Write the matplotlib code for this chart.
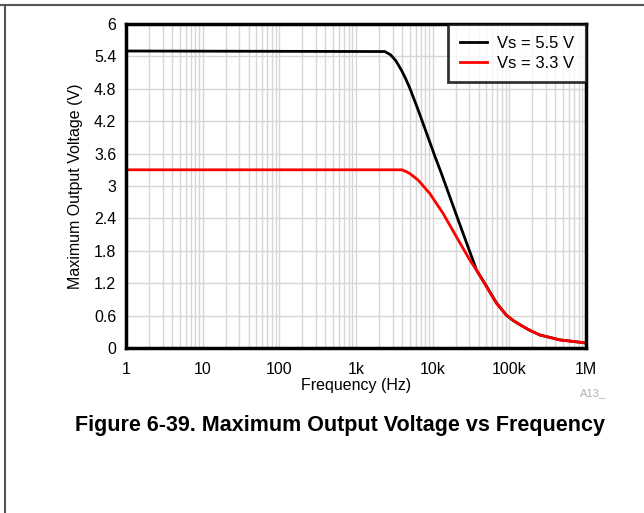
import matplotlib.pyplot as plt
from matplotlib.lines import Line2D

plt.rcParams['font.family'] = ['Liberation Sans', 'DejaVu Sans']

# Vs = 5.5 V curve
freq_55 = [1, 2380, 2820, 3310, 3930, 4470, 5040, 6460, 8320, 10700, 13100,
           21400, 37400, 50100, 67600, 91200, 112000, 138000, 178000, 251000,
           457000, 912000, 1000000]
vout_55 = [5.5, 5.49, 5.43, 5.32, 5.14, 4.98, 4.81, 4.41, 3.98, 3.55, 3.22,
           2.38, 1.44, 1.15, 0.84, 0.61, 0.51, 0.43, 0.34, 0.24,
           0.15, 0.10, 0.09]

# Vs = 3.3 V curve
freq_33 = [1, 3930, 4470, 5040, 6460, 9180, 13700, 20400, 30500, 37400,
           50100, 67600, 91200, 112000, 138000, 178000, 251000, 457000, 912000, 1000000]
vout_33 = [3.3, 3.3, 3.27, 3.23, 3.11, 2.86, 2.49, 2.06, 1.63, 1.44,
           1.14, 0.83, 0.61, 0.51, 0.43, 0.34, 0.24, 0.15, 0.10, 0.09]

x_ticks = [1, 10, 100, 1e3, 1e4, 1e5, 1e6]
x_labels = ["1", "10", "100", "1k", "10k", "100k", "1M"]
y_ticks = [0, 0.6, 1.2, 1.8, 2.4, 3, 3.6, 4.2, 4.8, 5.4, 6]
y_labels = ["0", "0.6", "1.2", "1.8", "2.4", "3", "3.6", "4.2", "4.8", "5.4", "6"]

fig = plt.figure(figsize=(6.44, 5.13), dpi=100)
W, H = 644, 513
ax = fig.add_axes([126 / W, 1 - 348 / H, (586 - 126) / W, (348 - 24) / H])

ax.plot(freq_55, vout_55, color='black', lw=2, label='Vs = 5.5 V', zorder=3)
ax.plot(freq_33, vout_33, color='#ff0000', lw=2, label='Vs = 3.3 V', zorder=4)

ax.set_xscale('log')
ax.set_xlim(1, 1e6)
ax.set_ylim(0, 6)
ax.set_xticks(x_ticks)
ax.set_xticklabels(x_labels)
ax.set_yticks(y_ticks)
ax.set_yticklabels(y_labels)
ax.tick_params(which='both', length=0, labelsize=11.5, colors='black')
ax.tick_params(axis='x', pad=10)
ax.tick_params(axis='y', pad=7)
ax.grid(True, which='major', color='#d6d6d6', lw=1)
ax.grid(True, which='minor', axis='x', color='#d6d6d6', lw=1)
for s in ax.spines.values():
    s.set_linewidth(2.5)
    s.set_zorder(5)

ax.set_xlabel("Frequency (Hz)", fontsize=11.5, labelpad=1)
ax.set_ylabel("Maximum Output Voltage (V)", fontsize=11.5, labelpad=8)

leg = ax.legend(loc='upper right', fontsize=12, frameon=True, fancybox=False,
                borderaxespad=0, handlelength=1.65, handletextpad=0.6,
                borderpad=0.7, labelspacing=0.3)
leg.get_frame().set_edgecolor('black')
leg.get_frame().set_linewidth(2)
leg.set_zorder(6)

fig.text(580 / W, 1 - 393 / H, "A13_", fontsize=8, color='#b0b0b0', ha='left', va='center')
fig.text(340 / W, 1 - 425 / H, "Figure 6-39. Maximum Output Voltage vs Frequency",
         fontsize=15.5, fontweight='bold', ha='center', va='center')

# page frame
fig.add_artist(Line2D([0, 1], [1 - 5 / H, 1 - 5 / H], color='#555555', lw=1.5))
fig.add_artist(Line2D([4.5 / W, 4.5 / W], [0, 1 - 5 / H], color='#555555', lw=1.5))

fig.savefig("out.png", dpi=100)
